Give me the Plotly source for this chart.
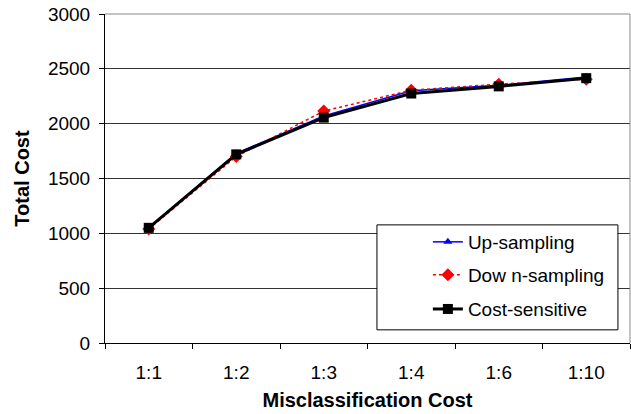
import plotly.graph_objects as go

categories = ["1:1", "1:2", "1:3", "1:4", "1:6", "1:10"]
up_sampling = [1050, 1730, 2070, 2300, 2350, 2425]
down_sampling = [1040, 1700, 2115, 2305, 2360, 2405]
cost_sensitive = [1050, 1720, 2055, 2275, 2340, 2415]
y_ticks = [0, 500, 1000, 1500, 2000, 2500, 3000]

FONT = "Liberation Sans, Arial, sans-serif"

fig = go.Figure()
fig.add_trace(go.Scatter(x=categories, y=up_sampling, name="Up-sampling",
                         mode="lines+markers", legend="legend",
                         line=dict(color="#0000ff", width=1.5),
                         marker=dict(symbol="triangle-up", size=8, color="#0000ff")))
fig.add_trace(go.Scatter(x=categories, y=down_sampling, name="Dow n-sampling",
                         mode="lines+markers", legend="legend2",
                         line=dict(color="#ff0000", width=1.5, dash="dot"),
                         marker=dict(symbol="diamond", size=10, color="#ff0000")))
fig.add_trace(go.Scatter(x=categories, y=cost_sensitive, name="Cost-sensitive",
                         mode="lines+markers", legend="legend3",
                         line=dict(color="#000000", width=3),
                         marker=dict(symbol="square", size=10, color="#000000")))

def leg(y):
    return dict(x=0.615, y=y, xanchor="left", yanchor="middle",
                bgcolor="rgba(0,0,0,0)", borderwidth=0,
                font=dict(family=FONT, size=19, color="black"))

fig.update_layout(
    width=631, height=414,
    margin=dict(l=105, r=1, t=14, b=71),
    paper_bgcolor="white", plot_bgcolor="white",
    font=dict(family=FONT, size=19, color="black"),
    showlegend=True,
    legend=leg(0.307), legend2=leg(0.207), legend3=leg(0.103),
    xaxis=dict(type="category", range=[-0.5, 5.5], tickson="boundaries",
               ticks="outside", ticklen=5, tickcolor="black",
               showline=True, linecolor="black", linewidth=1,
               showgrid=False, mirror=False, tickfont=dict(size=19),
               ticklabelstandoff=12,
               title=dict(text="<b>Misclassification Cost</b>", font=dict(size=20), standoff=11)),
    yaxis=dict(range=[0, 3000], tickvals=y_ticks, ticks="outside", ticklen=5,
               tickcolor="black", showline=True, linecolor="black", linewidth=1,
               showgrid=True, gridcolor="#333333", gridwidth=1, tickfont=dict(size=19),
               ticklabelstandoff=5,
               title=dict(text="<b>Total Cost</b>", font=dict(size=20), standoff=12)),
)
fig.add_shape(type="line", xref="paper", yref="paper", x0=1, x1=1, y0=0, y1=1,
              line=dict(color="#888888", width=1))
fig.add_shape(type="line", xref="paper", yref="paper", x0=0, x1=1, y0=1, y1=1,
              line=dict(color="#888888", width=1))
fig.add_shape(type="rect", xref="paper", yref="paper", x0=0.518, x1=0.977,
              y0=0.04, y1=0.359, layer="above",
              fillcolor="white", line=dict(color="black", width=1))

fig.write_html("out.html")
